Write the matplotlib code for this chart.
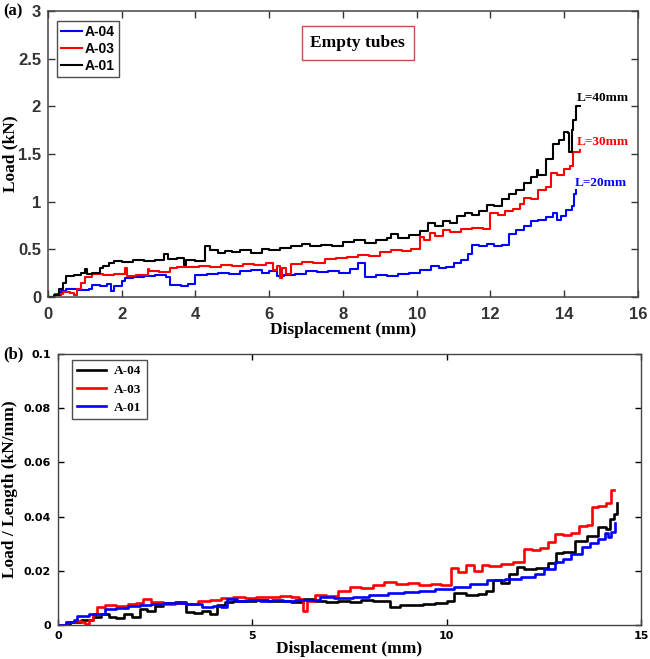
# -*- coding: utf-8 -*-

import matplotlib
matplotlib.use('Agg')
import matplotlib.pyplot as plt
from matplotlib.ticker import FuncFormatter


# ---- (a) load vs displacement ----
a01_x = [0, 0.15, 0.3, 0.4, 0.5, 0.7, 0.9, 1.0, 1.05, 1.2, 1.4, 1.5, 1.65, 1.8, 2.0, 2.3, 2.6, 2.9, 3.15, 3.25,
         3.5, 3.7, 3.75, 4.0, 4.25, 4.4, 4.6, 4.8, 5.0, 5.2, 5.5, 5.8, 6.0, 6.3, 6.6, 6.9, 7.1, 7.4, 7.7, 8.0,
         8.3, 8.6, 8.9, 9.2, 9.3, 9.5, 9.8, 10.1, 10.3, 10.5, 10.7, 10.9, 11.1, 11.3, 11.5, 11.7, 11.9, 12.1, 12.3, 12.5,
         12.7, 12.9, 13.1, 13.25, 13.3, 13.5, 13.7, 13.85, 14.0, 14.1, 14.13, 14.2, 14.25, 14.33, 14.42]
a01_y = [0, 0.02, 0.08, 0.15, 0.22, 0.23, 0.25, 0.29, 0.24, 0.25, 0.30, 0.33, 0.36, 0.38, 0.37, 0.39, 0.38, 0.39, 0.45, 0.40,
         0.41, 0.34, 0.39, 0.38, 0.53, 0.49, 0.46, 0.48, 0.47, 0.49, 0.46, 0.50, 0.49, 0.51, 0.53, 0.56, 0.54, 0.55, 0.53, 0.58,
         0.60, 0.57, 0.60, 0.62, 0.66, 0.62, 0.65, 0.69, 0.78, 0.74, 0.80, 0.78, 0.85, 0.88, 0.86, 0.90, 0.96, 0.95, 1.03, 1.08,
         1.12, 1.20, 1.26, 1.33, 1.28, 1.45, 1.61, 1.65, 1.73, 1.72, 1.52, 1.75, 1.86, 2.0, 2.0]

a03_x = [0, 0.2, 0.4, 0.6, 0.7, 0.8, 0.9, 1.0, 1.2, 1.5, 1.8, 2.1, 2.15, 2.4, 2.7, 2.75, 3.0, 3.3, 3.5, 3.8,
         4.1, 4.4, 4.7, 5.0, 5.3, 5.6, 5.9, 6.1, 6.2, 6.3, 6.35, 6.45, 6.6, 6.9, 7.2, 7.5, 7.8, 8.1, 8.4, 8.7,
         9.0, 9.3, 9.6, 9.85, 10.1, 10.2, 10.35, 10.5, 10.7, 10.9, 11.2, 11.5, 11.8, 12.0, 12.2, 12.4, 12.6, 12.8, 12.9, 13.1,
         13.3, 13.5, 13.65, 13.8, 14.0, 14.15, 14.25, 14.42]
a03_y = [0, 0.03, 0.05, 0.04, 0.02, 0.08, 0.15, 0.21, 0.24, 0.23, 0.24, 0.30, 0.22, 0.23, 0.29, 0.27, 0.26, 0.30, 0.31, 0.32,
         0.33, 0.32, 0.34, 0.33, 0.35, 0.34, 0.36, 0.28, 0.33, 0.20, 0.30, 0.24, 0.35, 0.37, 0.36, 0.40, 0.41, 0.42, 0.44, 0.43,
         0.47, 0.49, 0.48, 0.50, 0.63, 0.60, 0.67, 0.64, 0.70, 0.68, 0.71, 0.72, 0.71, 0.88, 0.86, 0.90, 0.92, 0.98, 1.04, 1.03,
         1.12, 1.15, 1.30, 1.28, 1.34, 1.37, 1.52, 1.54]

a04_x = [0, 0.2, 0.35, 0.5, 0.8, 1.1, 1.2, 1.4, 1.6, 1.7, 1.8, 2.0, 2.1, 2.3, 2.6, 2.9, 3.2, 3.3, 3.6, 3.8,
         4.0, 4.3, 4.6, 4.9, 5.2, 5.5, 5.8, 6.0, 6.2, 6.4, 6.7, 7.0, 7.3, 7.6, 7.9, 8.2, 8.4, 8.6, 8.9, 9.2,
         9.5, 9.8, 10.1, 10.4, 10.6, 10.8, 11.0, 11.2, 11.4, 11.5, 11.7, 11.9, 12.1, 12.3, 12.5, 12.7, 12.9, 13.1, 13.3, 13.5,
         13.7, 13.8, 13.9, 14.05, 14.2, 14.27, 14.33]
a04_y = [0, 0.02, 0.06, 0.08, 0.07, 0.08, 0.13, 0.12, 0.14, 0.06, 0.12, 0.17, 0.20, 0.21, 0.22, 0.23, 0.21, 0.13, 0.12, 0.14,
         0.23, 0.24, 0.25, 0.24, 0.27, 0.28, 0.25, 0.27, 0.22, 0.23, 0.24, 0.27, 0.26, 0.27, 0.25, 0.29, 0.36, 0.21, 0.23, 0.22,
         0.24, 0.25, 0.28, 0.33, 0.30, 0.32, 0.36, 0.39, 0.45, 0.55, 0.53, 0.56, 0.53, 0.55, 0.66, 0.70, 0.74, 0.80, 0.81, 0.84,
         0.88, 0.81, 0.85, 0.91, 0.95, 1.08, 1.12]

# ---- (b) load / length vs displacement ----
b04_x = [0, 0.3, 0.6, 0.9, 1.1, 1.3, 1.5, 1.7, 1.9, 2.1, 2.3, 2.5, 2.7, 3.0, 3.3, 3.5, 3.7, 3.9, 4.1, 4.3,
         4.5, 4.8, 5.1, 5.4, 5.7, 6.0, 6.3, 6.6, 6.9, 7.2, 7.5, 7.8, 8.1, 8.4, 8.55, 8.8, 9.1, 9.4, 9.7, 10.0,
         10.2, 10.5, 10.8, 11.0, 11.2, 11.4, 11.6, 11.8, 12.0, 12.3, 12.6, 12.8, 13.0, 13.3, 13.6, 13.9, 14.1, 14.2, 14.3, 14.37]
b04_y = [0, 0.001, 0.002, 0.003, 0.004, 0.003, 0.0025, 0.004, 0.003, 0.006, 0.005, 0.007, 0.008, 0.0085, 0.0048, 0.0045, 0.005, 0.0042, 0.0075, 0.0085,
         0.009, 0.0088, 0.0092, 0.0087, 0.009, 0.0085, 0.0095, 0.009, 0.0086, 0.0089, 0.0085, 0.0092, 0.0087, 0.0089, 0.0068, 0.0075, 0.0072, 0.0078, 0.0082, 0.009,
         0.0118, 0.011, 0.0113, 0.0125, 0.0166, 0.0155, 0.019, 0.0215, 0.0205, 0.021, 0.023, 0.0265, 0.027, 0.031, 0.033, 0.036, 0.0355, 0.039, 0.041, 0.045]

b03_x = [0, 0.2, 0.4, 0.6, 0.7, 0.8, 0.9, 1.0, 1.2, 1.5, 1.8, 2.0, 2.2, 2.4, 2.7, 3.0, 3.3, 3.6, 3.9, 4.2,
         4.5, 4.8, 5.1, 5.4, 5.7, 6.0, 6.2, 6.3, 6.4, 6.6, 6.9, 7.2, 7.5, 7.8, 8.1, 8.4, 8.7, 9.0, 9.3, 9.6,
         9.85, 10.1, 10.3, 10.5, 10.7, 10.9, 11.1, 11.4, 11.7, 12.0, 12.2, 12.4, 12.6, 12.78, 13.0, 13.2, 13.4, 13.6, 13.73, 13.9,
         14.1, 14.22, 14.3]
b03_y = [0, 0.001, 0.0015, 0.001, 0.0005, 0.002, 0.004, 0.0068, 0.0072, 0.007, 0.0078, 0.0082, 0.0095, 0.0085, 0.0079, 0.0083, 0.0078, 0.0088, 0.0092, 0.0098,
         0.0102, 0.0098, 0.0105, 0.0103, 0.0108, 0.0104, 0.0095, 0.005, 0.009, 0.0112, 0.0108, 0.0125, 0.0141, 0.0136, 0.0148, 0.0159, 0.0152, 0.0155, 0.0147, 0.0152,
         0.0147, 0.021, 0.0195, 0.0221, 0.02, 0.0222, 0.0218, 0.0226, 0.0233, 0.028, 0.0275, 0.0285, 0.0305, 0.0334, 0.0332, 0.034, 0.0365, 0.0368, 0.0437, 0.044,
         0.045, 0.0498, 0.05]

b01_x = [0, 0.2, 0.4, 0.5, 0.8, 1.0, 1.2, 1.5, 1.8, 2.1, 2.4, 2.7, 3.0, 3.3, 3.6, 3.7, 4.0, 4.2, 4.35, 4.6,
         4.9, 5.2, 5.5, 5.8, 6.1, 6.4, 6.75, 7.1, 7.6, 8.0, 8.5, 8.9, 9.3, 9.7, 10.19, 10.6, 11.05, 11.5, 11.92, 12.26,
         12.5, 12.78, 13.0, 13.2, 13.47, 13.7, 13.9, 14.07, 14.15, 14.24, 14.33]
b01_y = [0, 0.001, 0.002, 0.0035, 0.004, 0.0042, 0.0058, 0.0063, 0.007, 0.0072, 0.0078, 0.008, 0.0082, 0.0079, 0.0077, 0.0068, 0.007, 0.0068, 0.0095, 0.009,
         0.0093, 0.0089, 0.0092, 0.009, 0.0093, 0.0091, 0.0103, 0.0101, 0.0104, 0.0112, 0.0118, 0.0123, 0.0127, 0.0132, 0.0141, 0.0152, 0.0166, 0.0171, 0.0178, 0.019,
         0.0205, 0.0233, 0.0245, 0.0262, 0.0289, 0.0303, 0.0318, 0.0338, 0.0325, 0.0344, 0.0375]

a_yticks = [0, 0.5, 1, 1.5, 2, 2.5, 3]
a_xticks = [0, 2, 4, 6, 8, 10, 12, 14, 16]
b_yticks = [0, 0.02, 0.04, 0.06, 0.08, 0.1]
b_xticks = [0, 5, 10, 15]

SERIF = 'Liberation Serif'
SANS = 'Liberation Sans'
BLUE = '#0000ff'
RED = '#ff0000'

fig = plt.figure(figsize=(6.5, 6.59), dpi=100)

''' panel (a) '''
ax1 = fig.add_axes([0.0738, 0.5493, 0.9077, 0.434])
ax1.plot(a04_x, a04_y, color=BLUE, lw=1.5, drawstyle='steps-post', label='A-04')
ax1.plot(a03_x, a03_y, color=RED, lw=1.5, drawstyle='steps-post', label='A-03')
ax1.plot(a01_x, a01_y, color='black', lw=1.5, drawstyle='steps-post', label='A-01')
ax1.set_xlim(0, 16)
ax1.set_ylim(0, 3)
ax1.set_xticks(a_xticks)
ax1.set_yticks(a_yticks)
ax1.yaxis.set_major_formatter(FuncFormatter(lambda v, p: '%g' % v))
ax1.tick_params(direction='in', top=True, right=True, length=5, width=1, colors='#333333')
ax1.tick_params(axis='x', pad=7)
ax1.tick_params(axis='y', pad=5)
for lab in ax1.get_xticklabels() + ax1.get_yticklabels():
    lab.set_fontfamily(SANS)
    lab.set_fontweight('bold')
    lab.set_fontsize(12)
for s in ax1.spines.values():
    s.set_color('#444444')
    s.set_linewidth(1.1)
ax1.set_xlabel('Displacement (mm)', fontfamily=SERIF, fontweight='bold', fontsize=12.5, labelpad=0)
ax1.set_ylabel('Load (kN)', fontfamily=SERIF, fontweight='bold', fontsize=12.5)
ax1.yaxis.set_label_coords(-0.05, 0.5)
leg1 = ax1.legend(loc='upper left', bbox_to_anchor=(0.015, 0.965), borderaxespad=0, frameon=True, fancybox=False,
                  handlelength=1.5, handletextpad=0.2, borderpad=0.3, labelspacing=0.22,
                  prop={'family': SANS, 'weight': 'bold', 'size': 10})
leg1.get_frame().set_edgecolor('#222222')
leg1.get_frame().set_linewidth(1.0)
ax1.text(0.525, 0.888, 'Empty tubes', transform=ax1.transAxes, ha='center', va='center',
         fontfamily=SERIF, fontweight='bold', fontsize=12.5,
         bbox=dict(boxstyle='square,pad=0.5', fc='white', ec='#c0504d', lw=1.0))
ax1.text(14.33, 2.09, 'L=40mm', color='black', fontfamily=SERIF, fontweight='bold', fontsize=9.5, va='center')
ax1.text(14.33, 1.63, 'L=30mm', color=RED, fontfamily=SERIF, fontweight='bold', fontsize=9.5, va='center')
ax1.text(14.28, 1.20, 'L=20mm', color=BLUE, fontfamily=SERIF, fontweight='bold', fontsize=9.5, va='center')
fig.text(0.005, 0.982, '(a)', fontfamily=SERIF, fontweight='bold', fontsize=12, va='center')

''' panel (b) '''
ax2 = fig.add_axes([0.0892, 0.0516, 0.897, 0.4112])
ax2.plot(b04_x, b04_y, color='black', lw=1.9, drawstyle='steps-post', label='A-04')
ax2.plot(b03_x, b03_y, color=RED, lw=1.9, drawstyle='steps-post', label='A-03')
ax2.plot(b01_x, b01_y, color=BLUE, lw=1.9, drawstyle='steps-post', label='A-01')
ax2.set_xlim(0, 15)
ax2.set_ylim(0, 0.1)
ax2.set_xticks(b_xticks)
ax2.set_yticks(b_yticks)
ax2.yaxis.set_major_formatter(FuncFormatter(lambda v, p: '%g' % v))
ax2.tick_params(direction='in', top=True, right=True, length=4, width=1, colors='black')
ax2.tick_params(axis='x', pad=4)
ax2.tick_params(axis='y', pad=5)
for lab in ax2.get_xticklabels() + ax2.get_yticklabels():
    lab.set_fontfamily('DejaVu Sans')
    lab.set_fontweight('bold')
    lab.set_fontsize(8)
for s in ax2.spines.values():
    s.set_color('#444444')
    s.set_linewidth(1.0)
ax2.set_xlabel('Displacement (mm)', fontfamily=SERIF, fontweight='bold', fontsize=12.5, labelpad=0)
ax2.set_ylabel('Load / Length (kN/mm)', fontfamily=SERIF, fontweight='bold', fontsize=12.5)
ax2.yaxis.set_label_coords(-0.068, 0.5)
leg2 = ax2.legend(loc='upper left', bbox_to_anchor=(0.024, 0.978), borderaxespad=0, frameon=True, fancybox=False,
                  handlelength=2.2, handletextpad=0.6, borderpad=0.4, labelspacing=0.45,
                  prop={'family': SERIF, 'weight': 'bold', 'size': 9.5})
leg2.get_frame().set_edgecolor('#222222')
leg2.get_frame().set_linewidth(1.0)
fig.text(0.005, 0.462, '(b)', fontfamily=SERIF, fontweight='bold', fontsize=12, va='center')

fig.savefig('out.png', dpi=100)
